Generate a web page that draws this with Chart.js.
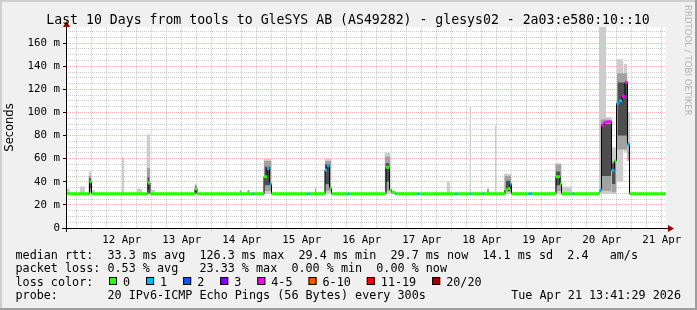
<!DOCTYPE html>
<html>
<head>
<meta charset="utf-8">
<title>Smokeping - glesys02</title>
<script src="https://cdn.jsdelivr.net/npm/chart.js@4.4.1/dist/chart.umd.min.js"></script>
<style>
    html, body { margin: 0; padding: 0; background: #f0f0f0; }
    canvas { display: block; }
</style>
</head>
<body>
<canvas id="smokeChart" width="697" height="310"></canvas>
<script>
// x values are hours since the graph start (Apr 11 13:41:29), y values in ms

// median rtt, one entry per change; value holds until the next time
const medianTimes = [0, 9.4, 10.2, 32.4, 32.8, 33.6, 51.6, 52.4, 74.6, 75.2,
    79.2, 80.4, 81.4, 82.2, 96.6, 97.2, 103.6, 104.4, 105.4, 106.2,
    112.6, 113.2, 128.0, 129.4, 130.2, 131.6, 132.2, 140.6, 141.2, 155.8,
    156.4, 161.6, 162.2, 166.6, 167.2, 175.6, 176.8, 177.6, 178.2, 185.0,
    186.4, 196.0, 197.6, 198.2, 202.6, 203.2, 213.2, 213.6, 214.2, 215.2,
    216.4, 218.2, 219.4, 220.2, 221.2, 222.4, 223.6, 224.6, 225.4];
const medianValues = [29.7, 40.0, 29.7, 29.7, 39.0, 29.7, 33.7, 29.7, 29.7, 29.7,
    44.4, 51.6, 38.0, 29.7, 29.7, 29.7, 50.2, 53.9, 34.3, 29.7,
    29.7, 29.7, 52.5, 32.9, 30.9, 29.7, 29.7, 29.7, 29.7, 29.7,
    29.7, 29.7, 29.7, 29.7, 29.7, 33.0, 34.3, 38.0, 29.7, 29.7,
    29.7, 44.4, 38.0, 29.7, 29.7, 29.7, 31.0, 33.0, 89.0, 91.5,
    92.0, 50.0, 58.0, 108.0, 110.0, 114.0, 126.0, 72.4, 29.7];
// index into lossColors / lossLabels
const medianLoss = [0, 0, 0, 1, 0, 0, 0, 0, 1, 0,
    0, 1, 1, 0, 1, 0, 1, 1, 0, 0,
    1, 0, 0, 0, 0, 1, 0, 1, 0, 1,
    0, 1, 0, 1, 0, 0, 0, 1, 0, 1,
    0, 0, 0, 0, 1, 0, 0, 1, 4, 4,
    4, 1, 0, 1, 1, 4, 4, 1, 0];

// light smoke (full ping spread)
const smokeFrom = [0, 5.6, 9.0, 10.4, 22.4, 28.4, 32.2, 34.0, 51.4, 55.6,
    67.6, 69.4, 72.4, 79.0, 99.6, 103.4, 127.4, 129.8, 152.2, 161.4,
    168.4, 171.6, 175.0, 195.6, 198.2, 213.2, 216.0, 218.4, 220.2, 223.0, 224.4];
const smokeTo = [1.6, 7.6, 10.2, 11.6, 23.2, 30.4, 33.6, 35.6, 52.4, 56.0,
    68.0, 70.0, 73.6, 82.2, 100.2, 106.2, 129.8, 131.6, 153.6, 162.0,
    169.4, 172.2, 178.2, 198.2, 202.4, 216.0, 218.4, 220.2, 223.0, 224.4, 225.6];
const smokeLow = [29.4, 29.4, 29.4, 29.4, 29.4, 29.4, 29.4, 29.4, 29.4, 29.4,
    29.4, 29.4, 29.4, 29.4, 29.4, 29.4, 29.4, 29.4, 29.4, 29.4,
    29.4, 29.4, 29.4, 29.4, 29.4, 29.4, 29.4, 29.4, 40, 66, 58];
const smokeHigh = [34, 36, 49, 33, 61, 34, 81, 33, 38, 31,
    32, 33, 33, 60, 35, 60, 65, 32, 40, 105,
    34, 89, 47, 56, 36, 176, 96, 70, 146, 142, 100];

// medium smoke
const midFrom = [9.0, 32.4, 51.4, 69.6, 72.8, 79.2, 99.6, 103.6, 127.6, 168.4, 175.4, 195.8, 213.8, 218.2, 220.4, 224.6];
const midTo = [10.2, 33.6, 52.4, 70.0, 73.2, 82.2, 100.0, 106.0, 129.8, 169.2, 178.0, 198.2, 218.2, 220.2, 224.6, 225.6];
const midLow = [31, 31, 31, 30, 30, 32, 30, 32, 32, 30, 31, 32, 32, 31, 68, 58];
const midHigh = [45, 52, 37, 33, 33, 58, 34, 58, 62, 34, 45, 55, 94, 58, 134, 74];

// dark smoke close to the median
const darkFrom = [9.2, 32.6, 51.6, 79.4, 103.6, 127.8, 176.0, 196.0, 214.0, 218.4, 220.6];
const darkTo = [10.0, 33.4, 52.2, 81.8, 105.6, 129.4, 177.8, 197.8, 218.0, 219.8, 224.4];
const darkLow = [34, 33, 31, 37, 38, 40, 32, 37, 45, 38, 80];
const darkHigh = [43, 44, 36, 53, 55, 56, 41, 49, 90, 56, 126];

const dayLabels = ['12 Apr', '13 Apr', '14 Apr', '15 Apr', '16 Apr',
    '17 Apr', '18 Apr', '19 Apr', '20 Apr', '21 Apr'];
const yTickLabels = ['0', '20 m', '40 m', '60 m', '80 m', '100 m', '120 m', '140 m', '160 m'];

const lossLabels = ['0', '1', '2', '3', '4-5', '6-10', '11-19', '20/20'];
const lossColors = ['#26ff00', '#00b8ff', '#0059ff', '#7e00ff', '#ff00ff', '#ff5500', '#ff0000', '#a10000'];

const titleText = 'Last 10 Days from tools to GleSYS AB (AS49282) - glesys02 - 2a03:e580:10::10';
const rttLine = 'median rtt:  33.3 ms avg  126.3 ms max  29.4 ms min  29.7 ms now  14.1 ms sd  2.4   am/s';
const lossLine = 'packet loss: 0.53 % avg   23.33 % max  0.00 % min  0.00 % now';
const probeLine = 'probe:       20 IPv6-ICMP Echo Pings (56 Bytes) every 300s';
const stampText = 'Tue Apr 21 13:41:29 2026';

const RANGE_HOURS = 240;
const firstMidnight = 10 + 18 / 60 + 31 / 3600; // 12 Apr 00:00

const MONO = '"DejaVu Sans Mono", monospace';
const majorGrid = 'rgba(255, 110, 110, 0.5)';
const minorGrid = 'rgba(150, 150, 150, 0.5)';

function hourOfDay(t) {
    return (((t - firstMidnight) % 24) + 24) % 24;
}

function blockSeries(from, to, vals) {
    const pts = [];
    from.forEach((f, i) => {
        pts.push({ x: f, y: vals[i] }, { x: to[i], y: vals[i] }, { x: to[i], y: null });
    });
    return pts;
}

// thin black step line (shows the jumps)
const medianStep = medianTimes.map((t, i) => ({ x: t, y: medianValues[i] }));
medianStep.push({ x: RANGE_HOURS, y: medianValues[medianValues.length - 1] });

// thick loss-coloured horizontal pieces
const medianPieces = [];
medianTimes.forEach((t, i) => {
    const end = i + 1 < medianTimes.length ? medianTimes[i + 1] : RANGE_HOURS;
    medianPieces.push({ x: t, y: medianValues[i], loss: medianLoss[i] });
    medianPieces.push({ x: end, y: medianValues[i], loss: medianLoss[i] });
    medianPieces.push({ x: end, y: null, loss: medianLoss[i] });
});

const clear = 'rgba(0,0,0,0)';
function band(from, to, high, low, color) {
    return [
        { data: blockSeries(from, to, high), borderColor: clear, borderWidth: 1, fill: '+1', backgroundColor: color },
        { data: blockSeries(from, to, low), borderColor: clear, borderWidth: 1 }
    ];
}

// earlier datasets are drawn on top
const datasets = [
    {
        data: medianPieces,
        borderWidth: 3,
        borderColor: lossColors[0],
        segment: {
            borderColor: ctx => lossColors[medianPieces[ctx.p0DataIndex].loss]
        }
    },
    { data: medianStep, borderWidth: 1, borderColor: '#000000', stepped: true },
    ...band(darkFrom, darkTo, darkHigh, darkLow, '#4e4e4e'),
    ...band(midFrom, midTo, midHigh, midLow, '#a2a2a2'),
    ...band(smokeFrom, smokeTo, smokeHigh, smokeLow, '#cdcdcd')
];

const rrdFrame = {
    id: 'rrdFrame',
    beforeDraw(chart) {
        const { ctx, chartArea: a, width, height } = chart;
        ctx.save();
        ctx.fillStyle = '#f0f0f0';
        ctx.fillRect(0, 0, width, height);
        ctx.fillStyle = '#cfcfcf';
        ctx.fillRect(0, 0, width, 2);
        ctx.fillRect(0, 0, 2, height);
        ctx.fillStyle = '#9e9e9e';
        ctx.fillRect(0, height - 2, width, 2);
        ctx.fillRect(width - 2, 0, 2, height);
        ctx.fillStyle = '#ffffff';
        ctx.fillRect(a.left, a.top, a.right - a.left, a.bottom - a.top);
        ctx.restore();
    },
    afterDraw(chart) {
        const { ctx, chartArea: a } = chart;
        ctx.save();

        // axes with arrows
        ctx.strokeStyle = '#000000';
        ctx.lineWidth = 1;
        ctx.beginPath();
        ctx.moveTo(a.left - 4, a.bottom + 0.5);
        ctx.lineTo(a.right + 4, a.bottom + 0.5);
        ctx.moveTo(a.left + 0.5, a.bottom + 4);
        ctx.lineTo(a.left + 0.5, a.top - 2);
        ctx.stroke();
        ctx.fillStyle = '#9a0000';
        ctx.beginPath();
        ctx.moveTo(a.left + 0.5, a.top - 6);
        ctx.lineTo(a.left - 3, a.top);
        ctx.lineTo(a.left + 4, a.top);
        ctx.closePath();
        ctx.fill();
        ctx.beginPath();
        ctx.moveTo(a.right + 8, a.bottom + 0.5);
        ctx.lineTo(a.right + 2, a.bottom - 3);
        ctx.lineTo(a.right + 2, a.bottom + 4);
        ctx.closePath();
        ctx.fill();

        // title
        ctx.fillStyle = '#000000';
        ctx.font = '13.2px ' + MONO;
        ctx.textAlign = 'center';
        ctx.textBaseline = 'alphabetic';
        ctx.fillText(titleText, 348, 24);

        // watermark
        ctx.save();
        ctx.translate(687, 5);
        ctx.rotate(Math.PI / 2);
        ctx.font = '8.6px "DejaVu Sans", sans-serif';
        ctx.fillStyle = '#b4b4b4';
        ctx.textAlign = 'left';
        ctx.textBaseline = 'middle';
        ctx.fillText('RRDTOOL / TOBI OETIKER', 0, 0);
        ctx.restore();

        // legend
        ctx.font = '11.75px ' + MONO;
        ctx.textAlign = 'left';
        ctx.fillStyle = '#000000';
        ctx.fillText(rttLine, 15.5, 258.5);
        ctx.fillText(lossLine, 15.5, 272);
        ctx.fillText('loss color:', 15.5, 285.5);
        let bx = 109;
        lossLabels.forEach((lab, i) => {
            ctx.fillStyle = lossColors[i];
            ctx.fillRect(bx, 277, 8, 8);
            ctx.strokeStyle = '#000000';
            ctx.strokeRect(bx + 0.5, 277.5, 7, 7);
            ctx.fillStyle = '#000000';
            ctx.fillText(lab, bx + 14, 285.5);
            bx += 14 + ctx.measureText(lab).width + 16;
        });
        ctx.fillText(probeLine, 15.5, 299);
        ctx.textAlign = 'right';
        ctx.fillText(stampText, 681, 299);
        ctx.restore();
    }
};

new Chart(document.getElementById('smokeChart'), {
    type: 'line',
    data: { datasets: datasets },
    options: {
        responsive: false,
        animation: false,
        devicePixelRatio: 1,
        events: [],
        layout: { padding: { left: 0, right: 31, top: 27, bottom: 0 } },
        elements: { point: { radius: 0 }, line: { tension: 0 } },
        plugins: {
            legend: { display: false },
            tooltip: { enabled: false },
            title: { display: false }
        },
        scales: {
            x: {
                type: 'linear',
                min: 0,
                max: RANGE_HOURS,
                afterFit(scale) { scale.height = 82; },
                afterBuildTicks(scale) {
                    const ticks = [];
                    for (let t = firstMidnight - 6; t < RANGE_HOURS; t += 6) ticks.push({ value: t });
                    scale.ticks = ticks;
                },
                ticks: {
                    autoSkip: false,
                    maxRotation: 0,
                    padding: 3,
                    color: '#000000',
                    font: { family: 'DejaVu Sans Mono', size: 10.8 },
                    callback(value) {
                        if (Math.abs(hourOfDay(value) - 12) > 0.01) return '';
                        return dayLabels[Math.round((value - firstMidnight - 12) / 24)];
                    }
                },
                grid: {
                    color: ctx => hourOfDay(ctx.tick.value) < 0.01 ? majorGrid : minorGrid,
                    tickColor: ctx => hourOfDay(ctx.tick.value) < 0.01 ? majorGrid : clear,
                    tickLength: 3,
                    lineWidth: 1
                },
                border: { display: false, dash: [1, 1] }
            },
            y: {
                min: 0,
                max: 174,
                afterFit(scale) { scale.width = 66; },
                afterBuildTicks(scale) {
                    const ticks = [];
                    for (let v = 0; v <= 170; v += 5) ticks.push({ value: v });
                    scale.ticks = ticks;
                },
                ticks: {
                    autoSkip: false,
                    padding: 3,
                    color: '#000000',
                    font: { family: 'DejaVu Sans Mono', size: 10.8 },
                    callback(value) {
                        return value % 20 === 0 ? yTickLabels[value / 20] : '';
                    }
                },
                grid: {
                    color: ctx => ctx.tick.value % 20 === 0 ? majorGrid : minorGrid,
                    tickColor: ctx => ctx.tick.value % 20 === 0 ? '#000000' : clear,
                    tickLength: 3,
                    lineWidth: 1
                },
                border: { display: false, dash: [1, 1] },
                title: {
                    display: true,
                    text: 'Seconds',
                    color: '#000000',
                    font: { family: 'DejaVu Sans', size: 11.5 },
                    padding: { top: 3, bottom: 0 }
                }
            }
        }
    },
    plugins: [rrdFrame]
});
</script>
</body>
</html>
